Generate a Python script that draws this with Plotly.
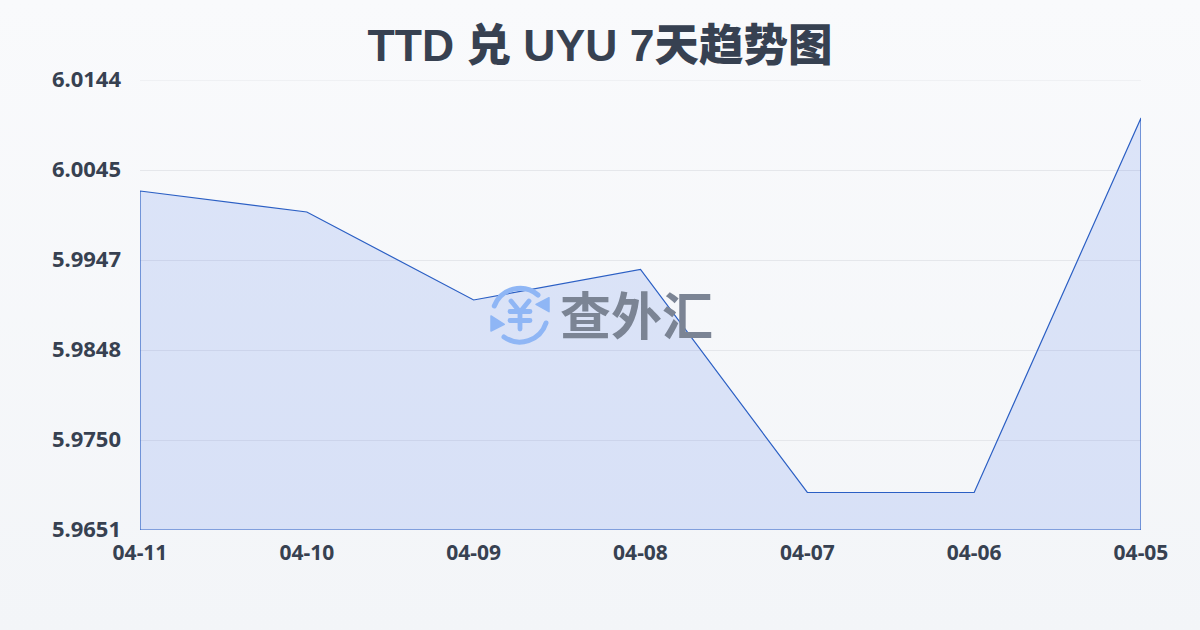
import base64
import plotly.graph_objects as go

dates = ["04-11", "04-10", "04-09", "04-08", "04-07", "04-06", "04-05"]
rates = [6.00224, 5.99994, 5.9903, 5.99364, 5.96921, 5.96921, 6.01024]
y_ticks = [5.9651, 5.97496, 5.98482, 5.99468, 6.00454, 6.0144]
y_labels = ["5.9651", "5.9750", "5.9848", "5.9947", "6.0045", "6.0144"]
y_min, y_max = y_ticks[0], y_ticks[-1]
title = "TTD 兑 UYU 7天趋势图"
watermark = "查外汇"

FONT = "Noto Sans, Noto Sans CJK SC"
TITLE_FONT = "Liberation Sans, Noto Sans CJK SC"
INK = "#374151"
LINE = "#2b5fc4"

bg_svg = ('<svg xmlns="http://www.w3.org/2000/svg" width="1200" height="630">'
          '<defs><linearGradient id="g" x1="0" y1="0" x2="0" y2="1">'
          '<stop offset="0" stop-color="#f9fafc"/><stop offset="1" stop-color="#f3f5f8"/>'
          '</linearGradient></defs><rect width="1200" height="630" fill="url(#g)"/></svg>')
logo_svg = ('<svg xmlns="http://www.w3.org/2000/svg" width="60" height="62" viewBox="0 0 60 62">'
            '<g fill="none" stroke="#8fb6f5" stroke-width="5" stroke-linecap="round">'
            '<path d="M4.3 21 A27.5 27.5 0 0 1 48 10"/><path d="M56 38 A27.5 27.5 0 0 1 14 52"/>'
            '<path d="M21 16 L30 27 L39 16 M20 26.5 H40 M20 35.5 H40 M30 27 V44" stroke-width="4.8"/></g>'
            '<path d="M59 12.7 L59 26.7 L46 19.3 Z" fill="#8fb6f5" stroke="#8fb6f5" stroke-width="1.5" stroke-linejoin="round"/>'
            '<path d="M1 31 L1 46 L14.3 39.3 Z" fill="#8fb6f5" stroke="#8fb6f5" stroke-width="1.5" stroke-linejoin="round"/></svg>')
def uri(s):
    return "data:image/svg+xml;base64," + base64.b64encode(s.encode()).decode()

fig = go.Figure()
fig.add_trace(go.Scatter(
    x=dates + [dates[-1], dates[0], dates[0]],
    y=rates + [y_min, y_min, rates[0]],
    mode="lines", fill="toself", fillcolor="rgba(59,110,235,0.15)",
    line=dict(color=LINE, width=1.2), hoverinfo="skip", showlegend=False,
))
fig.update_layout(
    width=1200, height=630, autosize=False,
    margin=dict(l=140, r=59, t=80, b=100),
    paper_bgcolor="#f6f7fa", plot_bgcolor="rgba(0,0,0,0)",
    showlegend=False,
    font=dict(family=FONT, color=INK),
    title=dict(text=title, x=0.5, xanchor="center", y=0.928, yanchor="middle",
               font=dict(size=44.5, family=TITLE_FONT, color=INK, weight=900)),
    xaxis=dict(type="category", categoryorder="array", categoryarray=dates,
               range=[0, len(dates) - 1], showgrid=False, zeroline=False, showline=False,
               ticks="", tickfont=dict(size=21, family=FONT, color=INK, weight="bold"),
               ticklabelstandoff=8),
    yaxis=dict(range=[y_min, y_max], tickvals=y_ticks, ticktext=y_labels,
               showgrid=True, gridcolor="#e5e7eb", gridwidth=1, zeroline=False, showline=False,
               ticks="", tickfont=dict(size=22, family=FONT, color=INK, weight="bold"),
               ticklabelstandoff=18, ticklabelshift=-1),
    shapes=[dict(type="line", xref="paper", yref="y", x0=0, x1=1, y0=y_max, y1=y_max,
                 line=dict(color="#e5e7eb", width=1), layer="below")],
    images=[
        dict(source=uri(bg_svg), xref="paper", yref="paper", x=-140/1001, y=1+80/450,
             sizex=1200/1001, sizey=630/450, sizing="stretch", xanchor="left", yanchor="top", layer="below"),
        dict(source=uri(logo_svg), xref="paper", yref="paper", x=(490-140)/1001, y=1-(285-80)/450,
             sizex=60/1001, sizey=62/450, sizing="stretch", xanchor="left", yanchor="top", layer="above"),
    ],
    annotations=[dict(text=f"<b>{watermark}</b>", xref="paper", yref="paper",
                      x=(636-140)/1001, y=1-(313-80)/450, xanchor="center", yanchor="middle",
                      showarrow=False, opacity=1,
                      font=dict(size=51, family="Noto Sans CJK SC", color="#7b8494"))],
)
fig.write_html("out.html", config={"displayModeBar": False, "staticPlot": True},
               post_script="document.body.style.margin='0';document.documentElement.style.overflow='hidden';")
